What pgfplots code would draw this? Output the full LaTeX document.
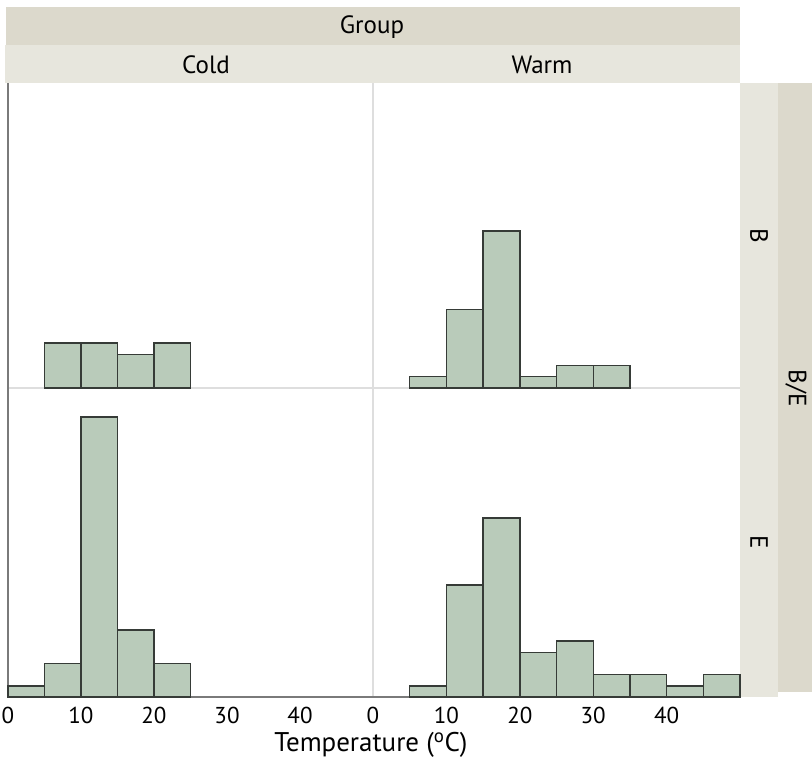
\documentclass[border=0pt]{standalone}
\usepackage{pgfplots}
\pgfplotsset{compat=1.18}
\usepackage{fontspec}
\setmainfont{PT Sans}
\definecolor{stripdark}{HTML}{DCD9CC}
\definecolor{striplight}{HTML}{E7E6DD}
\definecolor{barfill}{HTML}{B9CBBA}
\definecolor{baredge}{HTML}{363B37}
\definecolor{divider}{HTML}{DEDEDE}
\definecolor{axgray}{HTML}{7A7A7A}
\pgfplotsset{
  panel/.style={
    anchor=south west, scale only axis, xmin=0, xmax=50, ymin=0,
    axis line style={draw=none}, major tick length=0pt,
    ytick=\empty, clip=false,
    /pgf/number format/assume math mode=true,
    xticklabel style={font=\fontsize{23}{26}\selectfont, yshift=-7pt},
  },
  bars/.style={ybar interval, fill=barfill, draw=baredge, line width=1.4pt},
}
\begin{document}
\begin{tikzpicture}[x=1pt,y=1pt]
\useasboundingbox (0,0) rectangle (812,763);
% top strips
\fill[stripdark] (6,718) rectangle (740,756);
\fill[striplight] (5,680) rectangle (740,718);
\node[font=\fontsize{25}{28}\selectfont] at (372,736) {Group};
\node[font=\fontsize{25}{28}\selectfont] at (206,698) {Cold};
\node[font=\fontsize{25}{28}\selectfont] at (542,698) {Warm};
% right strips
\fill[striplight] (740,66) rectangle (778,680);
\fill[stripdark] (778,71) rectangle (812,680);
\node[font=\fontsize{25}{28}\selectfont, rotate=-90] at (759,527) {B};
\node[font=\fontsize{25}{28}\selectfont, rotate=-90] at (759,221) {E};
\node[font=\fontsize{25}{28}\selectfont, rotate=-90] at (796,375) {B/E};
% dividers
\draw[divider, line width=1.2pt] (373,66) -- (373,680);
\draw[divider, line width=1.2pt] (8,375) -- (740,375);
\draw[axgray, line width=2pt] (8,66) -- (8,680);
\draw[axgray, line width=1.5pt] (8,66) -- (740,66);

% Cold, B
\begin{axis}[panel, at={(8pt,375pt)}, width=365pt, height=305pt, ymax=27.2, xtick=\empty]
\addplot[bars] coordinates {(5,4) (10,4) (15,3) (20,4) (25,4)};
\end{axis}
% Warm, B
\begin{axis}[panel, at={(373pt,375pt)}, width=367pt, height=305pt, ymax=27.2, xtick=\empty]
\addplot[bars] coordinates {(5,1) (10,7) (15,14) (20,1) (25,2) (30,2) (35,2)};
\end{axis}
% Cold, E
\begin{axis}[panel, at={(8pt,66pt)}, width=365pt, height=309pt, ymax=27.6, xtick={0,10,20,30,40}]
\addplot[bars] coordinates {(0,1) (5,3) (10,25) (15,6) (20,3) (25,3)};
\end{axis}
% Warm, E
\begin{axis}[panel, at={(373pt,66pt)}, width=367pt, height=309pt, ymax=27.6, xtick={0,10,20,30,40}]
\addplot[bars] coordinates {(5,1) (10,10) (15,16) (20,4) (25,5) (30,2) (35,2) (40,1) (45,2) (50,2)};
\end{axis}
\node[font=\fontsize{27}{30}\selectfont] at (371,18) {Temperature (\textsuperscript{o}C)};
\end{tikzpicture}
\end{document}
